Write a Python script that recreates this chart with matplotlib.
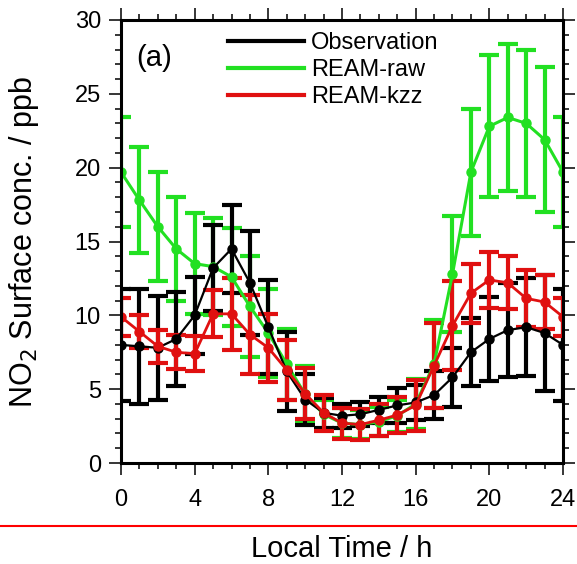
import numpy as np
import matplotlib
matplotlib.use('Agg')
import matplotlib.pyplot as plt
from matplotlib.lines import Line2D
from matplotlib.ticker import MultipleLocator

plt.rcParams['font.family'] = ['Liberation Sans', 'DejaVu Sans']

# diurnal cycle, local time 0..24 h (24 h repeats 0 h)
hours = list(range(25))

obs = [8.0, 7.9, 7.8, 8.4, 10.0, 13.2, 14.5, 12.2, 9.2, 6.2, 4.3, 3.4, 3.2,
       3.3, 3.6, 3.9, 4.1, 4.6, 5.8, 7.5, 8.4, 9.0, 9.2, 8.8, 8.0]
obs_err = [3.8, 3.9, 3.5, 3.2, 2.6, 2.9, 3.0, 3.5, 3.2, 2.7, 1.7, 1.0, 0.8,
           0.8, 0.9, 1.2, 1.2, 1.6, 2.0, 2.3, 2.85, 3.2, 3.3, 3.9, 3.8]

raw = [19.7, 17.8, 16.0, 14.5, 13.5, 13.3, 12.6, 10.6, 8.8, 6.7, 4.65, 3.3, 2.7,
       2.6, 2.8, 3.2, 4.0, 6.7, 12.8, 19.7, 22.8, 23.4, 23.0, 21.9, 19.7]
raw_err = [3.7, 3.6, 3.7, 3.5, 3.4, 3.3, 3.3, 3.45, 3.0, 2.4, 1.95, 1.0, 1.0,
           1.0, 1.0, 1.1, 1.7, 3.0, 3.9, 4.3, 4.8, 5.0, 5.0, 4.9, 3.7]

kzz = [9.9, 8.9, 7.9, 7.5, 7.4, 10.1, 10.1, 8.7, 7.8, 6.3, 4.7, 3.4, 2.7,
       2.6, 2.9, 3.25, 3.9, 6.6, 9.3, 11.5, 12.4, 12.2, 11.15, 10.9, 9.9]
kzz_err = [1.3, 1.1, 1.1, 1.15, 1.2, 1.6, 2.45, 2.65, 2.3, 2.05, 1.75, 1.2, 1.05,
           1.05, 1.1, 1.25, 1.7, 2.9, 3.0, 2.0, 1.9, 1.8, 1.95, 1.8, 1.3]

labels = ['Observation', 'REAM-raw', 'REAM-kzz']
colors = ['black', '#22e022', '#e01010']


def draw_series(ax, y, err, color, lw):
    ax.errorbar(hours, y, yerr=err, color=color, lw=lw, marker='o', ms=6.5,
                elinewidth=3.0, capsize=7.5, capthick=3.0)


def main():
    fig = plt.figure(figsize=(5.77, 5.64), dpi=100)
    ax = fig.add_axes([121/577, 1 - 463/564, 442/577, 443/564])

    # green under black under red
    draw_series(ax, raw, raw_err, colors[1], 2.2)
    draw_series(ax, obs, obs_err, colors[0], 1.6)
    draw_series(ax, kzz, kzz_err, colors[2], 2.0)

    ax.set_xlim(0, 24)
    ax.set_ylim(0, 30)
    ax.xaxis.set_major_locator(MultipleLocator(4))
    ax.xaxis.set_minor_locator(MultipleLocator(1))
    ax.yaxis.set_major_locator(MultipleLocator(5))
    ax.yaxis.set_minor_locator(MultipleLocator(1))
    ax.tick_params(which='both', direction='out', top=True, right=True,
                   width=1.1, labelsize=17)
    ax.tick_params(which='major', length=8.5, pad=6)
    ax.tick_params(axis='x', which='major', pad=10)
    ax.tick_params(which='minor', length=4)
    for s in ax.spines.values():
        s.set_linewidth(2.2)

    ax.set_xlabel('Local Time / h', fontsize=21)
    ax.xaxis.label.set_va('center')
    ax.xaxis.set_label_coords(0.5, (463 - 549) / 443)
    ax.set_ylabel('NO$_2$ Surface conc. / ppb', fontsize=22)
    ax.yaxis.label.set_va('center')
    ax.yaxis.set_label_coords((24 - 121) / 442, 0.5)

    ax.text(0.035, (463 - 58) / 443, '(a)', transform=ax.transAxes, fontsize=21,
            ha='left', va='center')

    handles = [Line2D([], [], color=c, lw=3) for c in colors]
    ax.legend(handles, labels, loc='upper left',
              bbox_to_anchor=((228 - 121) / 442, (463 - 32) / 443), frameon=False,
              fontsize=17, handlelength=3.2, handletextpad=0.3,
              labelspacing=0.22, borderpad=0, borderaxespad=0)

    # red rule across the page under the tick labels
    fig.add_artist(Line2D([0, 1], [1 - 526/564, 1 - 526/564],
                          transform=fig.transFigure, color='red', lw=1.5))

    fig.savefig('out.png', dpi=100)


if __name__ == '__main__':
    main()
